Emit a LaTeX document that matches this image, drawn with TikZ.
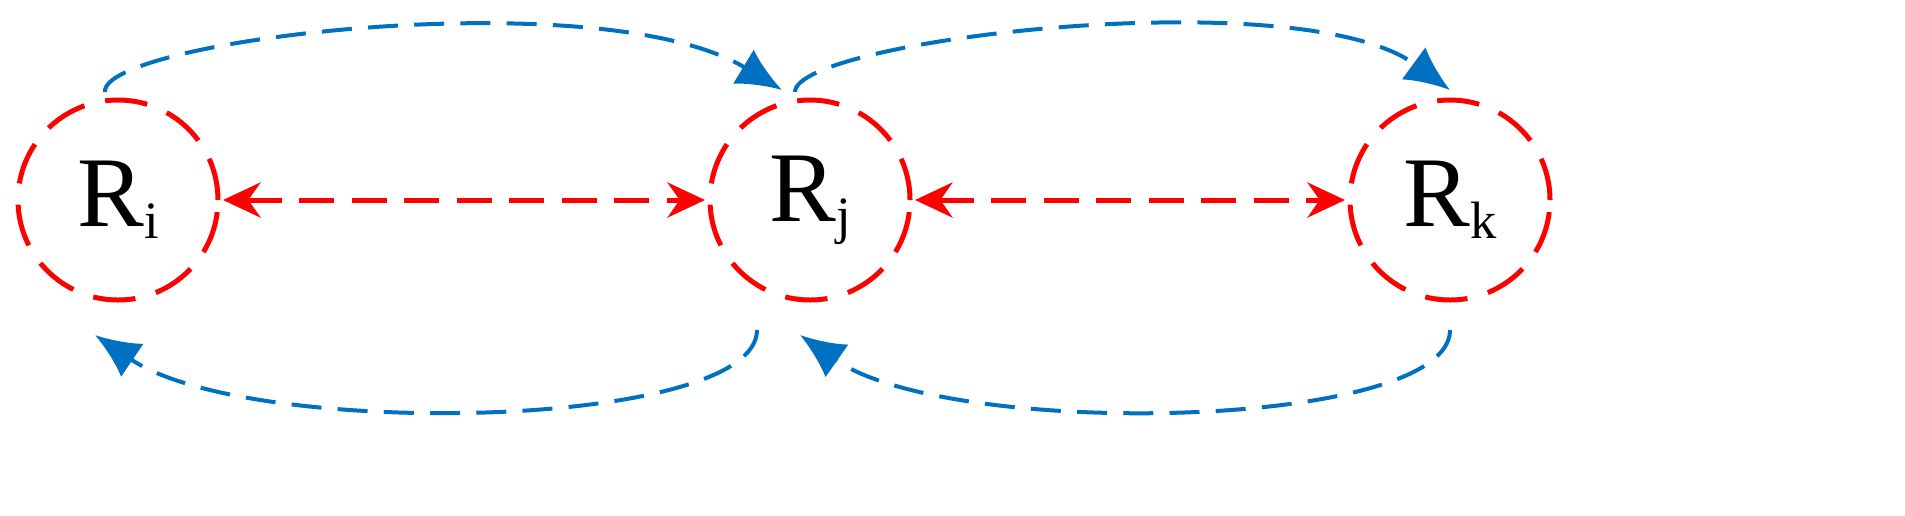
\documentclass[tikz,border=0pt]{standalone}
\usepackage{fontspec}
\setmainfont{Liberation Serif}
\usetikzlibrary{arrows.meta}
\definecolor{bl}{RGB}{0,112,192}
\begin{document}
\begin{tikzpicture}[x=0.4pt,y=-0.4pt,
  reg/.style={circle,draw=red,line width=2pt,dash pattern=on 17pt off 8.5pt,minimum size=80pt,inner sep=0pt,font=\fontsize{40}{44}\selectfont},
  rarr/.style={red,line width=2pt,dash pattern=on 14pt off 7pt,{Stealth[length=15pt,width=14pt]}-{Stealth[length=15pt,width=14pt]},shorten <=1pt,shorten >=1pt},
  barr/.style={draw=bl,line width=1.6pt,dash pattern=on 12pt off 6.5pt,-{Latex[length=18pt,width=16pt,fill=bl]}}]
\path[use as bounding box] (0,0) rectangle (1905,515);
\node[reg] (Ri) at (118,200) {R\raisebox{-0.12em}{\fontsize{21}{24}\selectfont i}};
\node[reg] (Rj) at (810,200) {R\raisebox{-0.12em}{\fontsize{21}{24}\selectfont j}};
\node[reg] (Rk) at (1450,200) {R\raisebox{-0.12em}{\fontsize{21}{24}\selectfont k}};
\draw[rarr] (Ri) -- (Rj);
\draw[rarr] (Rj) -- (Rk);
\coordinate (a1) at (105,92); \coordinate (a2) at (782,90);
\coordinate (b1) at (795,92); \coordinate (b2) at (1450,90);
\coordinate (c1) at (757,330); \coordinate (c2) at (95,335);
\coordinate (d1) at (1450,330); \coordinate (d2) at (800,335);
\draw[barr] (a1) .. controls (100,40) and (600,-20) .. (a2);
\draw[barr] (b1) .. controls (795,40) and (1300,-20) .. (b2);
\draw[barr] (c1) .. controls (757,430) and (250,440) .. (c2);
\draw[barr] (d1) .. controls (1450,430) and (950,440) .. (d2);
\end{tikzpicture}
\end{document}
